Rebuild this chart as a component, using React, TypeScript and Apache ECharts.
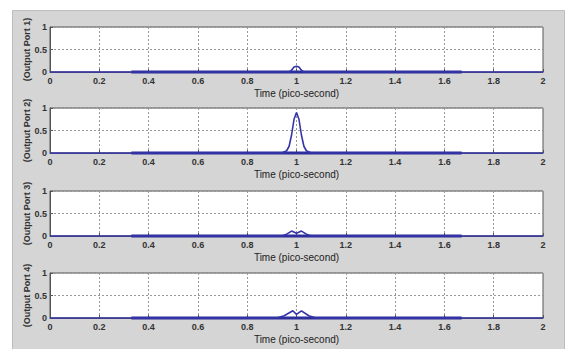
import React, { useEffect, useRef } from "react";
import * as echarts from "echarts";

const xTicks = [0, 0.2, 0.4, 0.6, 0.8, 1, 1.2, 1.4, 1.6, 1.8, 2];
const portNames = ["(Output Port 1)", "(Output Port 2)", "(Output Port 3)", "(Output Port 4)"];

const port1T = [0, 0.97, 0.98, 0.99, 1.0, 1.01, 1.02, 1.03, 2];
const port1V = [0, 0, 0.04, 0.11, 0.13, 0.11, 0.04, 0, 0];

const port2T = [0, 0.94, 0.96, 0.97, 0.98, 0.99, 1.0, 1.01, 1.02, 1.03, 1.04, 1.06, 2];
const port2V = [0, 0, 0.05, 0.15, 0.4, 0.75, 0.9, 0.75, 0.4, 0.15, 0.05, 0, 0];

const port3T = [0, 0.94, 0.96, 0.98, 1.0, 1.02, 1.04, 1.06, 2];
const port3V = [0, 0, 0.04, 0.11, 0.06, 0.11, 0.04, 0, 0];

const port4T = [0, 0.92, 0.95, 0.985, 1.0, 1.02, 1.05, 1.08, 2];
const port4V = [0, 0, 0.05, 0.16, 0.08, 0.16, 0.05, 0, 0];

const thickT = [0.33, 1.67];
const thickV = [0, 0];

const ports = [
  { t: port1T, v: port1V },
  { t: port2T, v: port2V },
  { t: port3T, v: port3V },
  { t: port4T, v: port4V },
];

const tops = [27, 108, 191, 273];
const FONT = "'Liberation Sans Narrow', 'Arial Narrow', 'Liberation Sans', sans-serif";

export default function App() {
  const ref = useRef<HTMLDivElement>(null);
  useEffect(() => {
    const chart = echarts.init(ref.current!, undefined, { renderer: "svg" });
    const grid = tops.map((top) => ({
      left: 50,
      right: 25,
      top,
      height: 45,
      show: true,
      backgroundColor: "#ffffff",
      borderColor: "#555",
      borderWidth: 1,
    }));
    const xAxis = tops.map((_, i) => ({
      type: "value",
      gridIndex: i,
      min: 0,
      max: 2,
      interval: 0.2,
      name: "Time (pico-second)",
      nameLocation: "middle",
      nameGap: 16,
      nameMoveOverlap: false,
      nameTextStyle: { fontSize: 10, color: "#222", fontFamily: "'Liberation Sans', Arial, sans-serif" },
      axisLine: { show: true, lineStyle: { color: "#555" } },
      axisTick: { show: true, inside: true, length: 3, lineStyle: { color: "#555" } },
      axisLabel: {
        fontSize: 9,
        fontWeight: "bold",
        color: "#333",
        margin: 4,
        fontFamily: FONT,
        formatter: (v: number) => String(Math.round(v * 10) / 10),
      },
      splitLine: { show: true, lineStyle: { color: "#999", type: [2, 2], width: 1 } },
    }));
    const yAxis = tops.map((_, i) => ({
      type: "value",
      gridIndex: i,
      min: 0,
      max: 1,
      interval: 0.5,
      name: portNames[i],
      nameLocation: "middle",
      nameGap: 19,
      nameMoveOverlap: false,
      nameRotate: 90,
      nameTextStyle: { fontSize: 9, fontWeight: "bold", color: "#333", fontFamily: "'Liberation Sans', Arial, sans-serif" },
      axisLine: { show: true, lineStyle: { color: "#555" } },
      axisTick: { show: true, inside: true, length: 3, lineStyle: { color: "#555" } },
      axisLabel: { fontSize: 9, fontWeight: "bold", color: "#333", margin: 3, fontFamily: FONT },
      splitLine: { show: true, lineStyle: { color: "#999", type: [2, 2], width: 1 } },
    }));
    const series: any[] = [];
    ports.forEach((p, i) => {
      series.push({
        type: "line",
        xAxisIndex: i,
        yAxisIndex: i,
        data: thickT.map((t, k) => [t, thickV[k]]),
        showSymbol: false,
        lineStyle: { color: "#2d2d9c", width: 3 },
        clip: false,
        z: 3,
      });
      series.push({
        type: "line",
        xAxisIndex: i,
        yAxisIndex: i,
        data: p.t.map((t, k) => [t, p.v[k]]),
        showSymbol: false,
        lineStyle: { color: "#3535a8", width: 1.6 },
        clip: false,
        z: 4,
      });
    });
    chart.setOption({
      animation: false,
      backgroundColor: "#ffffff",
      graphic: [
        {
          type: "rect",
          shape: { x: 12.5, y: 10.5, width: 552, height: 345 },
          style: { fill: "#d5d5d5", stroke: "#bdbdbd", lineWidth: 1 },
          z: -10,
          silent: true,
        },
      ],
      grid,
      xAxis,
      yAxis,
      series,
    });
    return () => chart.dispose();
  }, []);
  return (
    <div
      ref={ref}
      style={{ position: "fixed", left: 0, top: 0, width: 568, height: 349 }}
    />
  );
}
